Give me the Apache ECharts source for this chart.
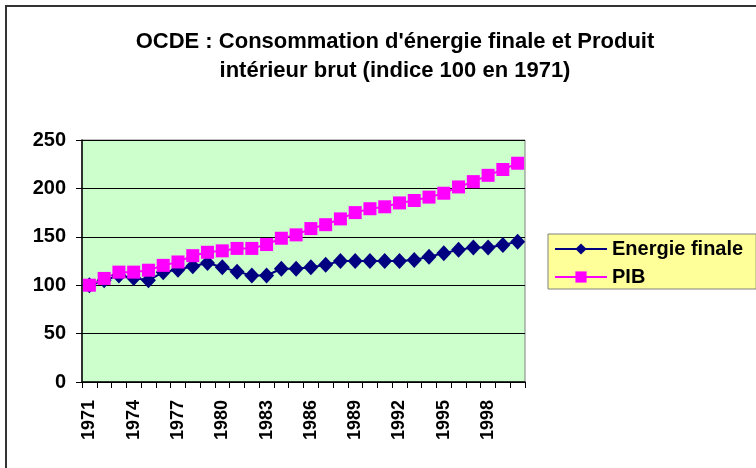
<!DOCTYPE html>
<html>
<head>
<meta charset="utf-8">
<script src="https://cdn.jsdelivr.net/npm/echarts@6/dist/echarts.min.js"></script>
<style>
html,body{margin:0;padding:0;background:#fff;}
#chart{width:756px;height:468px;}
</style>
</head>
<body>
<div id="chart"></div>
<script>
var annees=[];// 1971 -> 2000
for(var a=1971;a<=2000;a++){annees.push(String(a));}
var energie=[100,105,110,107.5,105,113.5,116,119.5,123,118.5,114,110,110,117,117,
             118.5,121,125,125,125,125,125,126,129.5,133,136.5,139,139,141.5,145];//Energie finale
var pib=[100,107,113.5,113.5,115.5,120.5,124,130.5,134,135.5,138,138,142,148.5,152,
         158.5,162.5,168.5,175,179,181,185,187.5,191,195,201.5,207,213.5,219.5,226];//PIB
var ticksY=[0,50,100,150,200,250];

var mychart=echarts.init(document.getElementById("chart"));
var police='"Liberation Sans", Arial, sans-serif';

var option={
    backgroundColor:'#fff',
    animation:false,
    title:{
        text:"OCDE : Consommation d'énergie finale et Produit\nintérieur brut (indice 100 en 1971)",
        left:390,
        top:22,
        textAlign:'center',
        textStyle:{fontFamily:police,fontSize:22,fontWeight:'bold',color:'#000',lineHeight:29}
    },
    legend:{
        orient:'vertical',
        left:548,
        top:234,
        padding:[5,13,2,6],
        itemGap:8,
        itemWidth:52,
        itemHeight:14,
        backgroundColor:'#FFFF99',
        borderColor:'#808080',
        borderWidth:1,
        borderRadius:0,
        textStyle:{fontFamily:police,fontSize:20,fontWeight:'bold',color:'#000',lineHeight:20},
        data:['Energie finale','PIB']
    },
    grid:{left:82,right:231,top:140,bottom:86,show:true,backgroundColor:'#CCFFCC',borderColor:'#808080',borderWidth:1},
    xAxis:{
        type:'category',
        data:annees,
        boundaryGap:true,
        axisLine:{lineStyle:{color:'#000',width:1.5}},
        axisTick:{show:true,interval:0,length:6,lineStyle:{color:'#000'}},
        axisLabel:{interval:2,rotate:90,fontFamily:police,fontSize:18,fontWeight:'bold',color:'#000',margin:18},
        splitLine:{show:false}
    },
    yAxis:{
        type:'value',
        min:0,
        max:250,
        interval:50,
        axisLine:{show:true,lineStyle:{color:'#000',width:1.5}},
        axisTick:{show:true,length:6,lineStyle:{color:'#000'}},
        axisLabel:{fontFamily:police,fontSize:20,fontWeight:'bold',color:'#000',margin:16,
            formatter:function(v){return ticksY.indexOf(v)>=0?String(v):'';}},
        splitLine:{show:true,lineStyle:{color:'#000',width:1}}
    },
    graphic:[{
        type:'rect',
        shape:{x:6,y:6,width:800,height:500},
        style:{fill:null,stroke:'#333',lineWidth:2},
        silent:true
    }],
    series:[
        {
            name:'Energie finale',
            type:'line',
            data:energie,
            showAllSymbol:true,
            symbol:'diamond',
            symbolSize:[15,16],
            itemStyle:{color:'#000080'},
            lineStyle:{color:'#000080',width:2}
        },
        {
            name:'PIB',
            type:'line',
            data:pib,
            showAllSymbol:true,
            symbol:'rect',
            symbolSize:13,
            itemStyle:{color:'#FF00FF'},
            lineStyle:{color:'#FF00FF',width:2}
        }
    ]
};
mychart.setOption(option);
</script>
</body>
</html>
